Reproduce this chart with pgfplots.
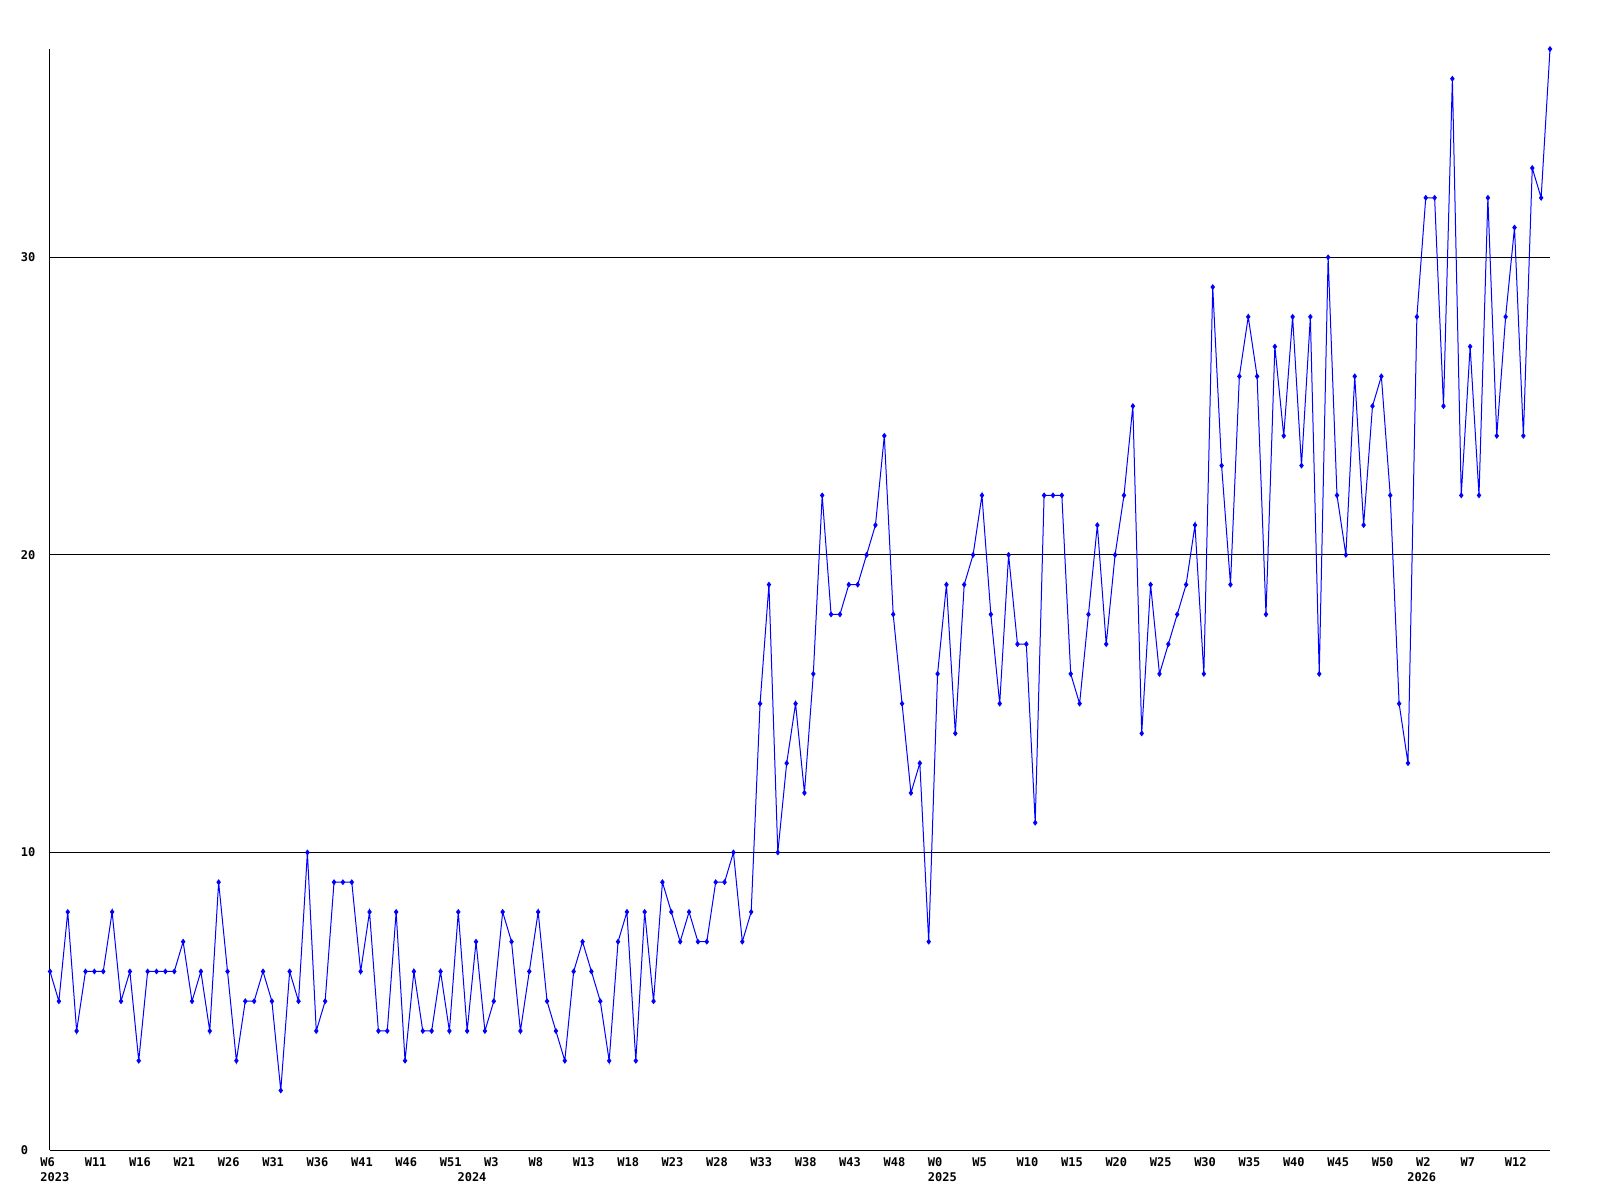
\documentclass[border=0pt]{standalone}
\usepackage{pgfplots}
\pgfplotsset{compat=1.18}
\usepackage{pgfplotstable}
\usepackage{fontspec}
\newfontfamily\tickfont{DejaVu Sans Mono}
\pgfplotstableread{
x y
0 6
1 5
2 8
3 4
4 6
5 6
6 6
7 8
8 5
9 6
10 3
11 6
12 6
13 6
14 6
15 7
16 5
17 6
18 4
19 9
20 6
21 3
22 5
23 5
24 6
25 5
26 2
27 6
28 5
29 10
30 4
31 5
32 9
33 9
34 9
35 6
36 8
37 4
38 4
39 8
40 3
41 6
42 4
43 4
44 6
45 4
46 8
47 4
48 7
49 4
50 5
51 8
52 7
53 4
54 6
55 8
56 5
57 4
58 3
59 6
60 7
61 6
62 5
63 3
64 7
65 8
66 3
67 8
68 5
69 9
70 8
71 7
72 8
73 7
74 7
75 9
76 9
77 10
78 7
79 8
80 15
81 19
82 10
83 13
84 15
85 12
86 16
87 22
88 18
89 18
90 19
91 19
92 20
93 21
94 24
95 18
96 15
97 12
98 13
99 7
100 16
101 19
102 14
103 19
104 20
105 22
106 18
107 15
108 20
109 17
110 17
111 11
112 22
113 22
114 22
115 16
116 15
117 18
118 21
119 17
120 20
121 22
122 25
123 14
124 19
125 16
126 17
127 18
128 19
129 21
130 16
131 29
132 23
133 19
134 26
135 28
136 26
137 18
138 27
139 24
140 28
141 23
142 28
143 16
144 30
145 22
146 20
147 26
148 21
149 25
150 26
151 22
152 15
153 13
154 28
155 32
156 32
157 25
158 36
159 22
160 27
161 22
162 32
163 24
164 28
165 31
166 24
167 33
168 32
169 37
}\datatable
\begin{document}
\begin{tikzpicture}
\begin{axis}[
 at={(0,0)}, anchor=south west,
 scale only axis, width=750pt, height=550.5pt,
 xmin=0, xmax=169, ymin=0, ymax=37,
 axis lines=left,
 axis line style={-, black, line width=0.5pt},
 ytick={0,10,20,30},
 ymajorgrids,
 grid style={black, line width=0.5pt},
 major tick length=0pt,
 /pgf/number format/assume math mode=true,
 xtick={0,5,...,165},
 xticklabels={W6,W11,W16,W21,W26,W31,W36,W41,W46,W51,W3,W8,W13,W18,W23,W28,W33,W38,W43,W48,W0,W5,W10,W15,W20,W25,W30,W35,W40,W45,W50,W2,W7,W12},
 tick label style={font=\fontsize{6}{7}\selectfont\tickfont\bfseries, inner sep=0pt},
 xticklabel style={anchor=north west, xshift=-5pt, yshift=-3.5pt},
 yticklabel style={anchor=west, xshift=-14.8pt},
 extra x ticks={0,47,100,154},
 extra x tick labels={2023,2024,2025,2026},
 extra x tick style={grid=none, major tick length=0pt, xticklabel style={yshift=-7.5pt}},
 clip=false,
]
\addplot[color={rgb,255:red,0;green,0;blue,255}, line width=0.5pt, mark=diamond*, mark size=1.1pt] table[x=x,y=y]{\datatable};
\end{axis}
\pgfresetboundingbox
\path (-25pt,-25pt) rectangle (775pt,575pt);
\end{tikzpicture}
\end{document}
